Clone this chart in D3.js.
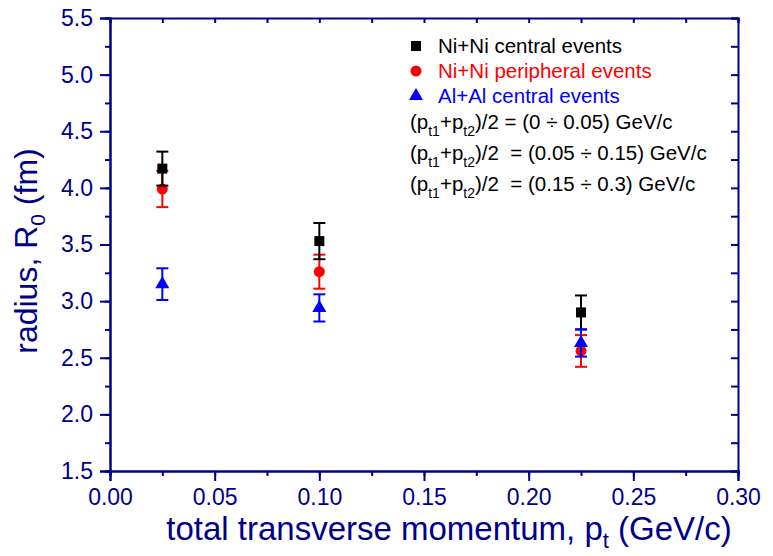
<!DOCTYPE html>
<html>
<head>
<meta charset="utf-8">
<script src="https://cdn.jsdelivr.net/npm/d3@7"></script>
<style>
  body { margin: 0; background: #fff; }
  svg { font-family: "Liberation Sans", Arial, sans-serif; }
</style>
</head>
<body>
<div id="chart"></div>
<script>
// values
let momentum = [0.025, 0.1, 0.225];
let niCentral = [4.17, 3.53, 2.90];
let niCentralErr = [0.15, 0.16, 0.15];
let niPeripheral = [3.99, 3.26, 2.56];
let niPeripheralErr = [0.16, 0.15, 0.14];
let alCentral = [3.15, 2.94, 2.63];
let alCentralErr = [0.14, 0.12, 0.12];
let xTicks = [0.00, 0.05, 0.10, 0.15, 0.20, 0.25, 0.30];
let yTicks = [1.5, 2.0, 2.5, 3.0, 3.5, 4.0, 4.5, 5.0, 5.5];
let legendLabels = ["Ni+Ni central events", "Ni+Ni peripheral events", "Al+Al central events"];
let binLabels = [
  ["(0 \u00f7 0.05) GeV/c", "/2 = "],
  ["(0.05 \u00f7 0.15) GeV/c", "/2  = "],
  ["(0.15 \u00f7 0.3) GeV/c", "/2  = "]
];

let axisColor = "#00008b";
let width = 773, height = 556;
let margin = { top: 18, right: 35, bottom: 85, left: 110 };

let svg = d3.select("#chart").append("svg")
  .attr("width", width)
  .attr("height", height);

let x = d3.scaleLinear().domain([0, 0.30]).range([margin.left, width - margin.right]);
let y = d3.scaleLinear().domain([1.5, 5.5]).range([height - margin.bottom, margin.top]);

let xMinor = d3.range(0, 0.3001, 0.025);
let yMinor = d3.range(1.5, 5.5001, 0.25);

function styleAxis(g) {
  g.selectAll("path").attr("stroke", axisColor).attr("stroke-width", 2);
  g.selectAll("line").attr("stroke", axisColor).attr("stroke-width", 2);
  g.selectAll("text").attr("fill", axisColor).style("font-size", "23px");
}

// minor ticks
svg.append("g").attr("transform", `translate(0,${y(1.5)})`)
  .call(d3.axisBottom(x).tickValues(xMinor).tickSize(5).tickFormat(""))
  .call(styleAxis);
svg.append("g").attr("transform", `translate(${x(0)},0)`)
  .call(d3.axisLeft(y).tickValues(yMinor).tickSize(5).tickFormat(""))
  .call(styleAxis);
svg.append("g").attr("transform", `translate(0,${y(5.5)})`)
  .call(d3.axisBottom(x).tickValues(xMinor).tickSize(5).tickFormat(""))
  .call(styleAxis);
svg.append("g").attr("transform", `translate(${x(0.3)},0)`)
  .call(d3.axisLeft(y).tickValues(yMinor).tickSize(7).tickFormat(""))
  .call(styleAxis);

// major ticks with labels
svg.append("g").attr("transform", `translate(0,${y(1.5)})`)
  .call(d3.axisBottom(x).tickValues(xTicks).tickSize(10).tickPadding(8).tickFormat(d3.format(".2f")))
  .call(styleAxis);
svg.append("g").attr("transform", `translate(${x(0)},0)`)
  .call(d3.axisLeft(y).tickValues(yTicks).tickSize(10).tickPadding(7).tickFormat(d3.format(".1f")))
  .call(styleAxis);

// axis titles
let xTitle = svg.append("text")
  .attr("x", (x(0) + x(0.3)) / 2 + 25)
  .attr("y", 540)
  .attr("text-anchor", "middle")
  .attr("fill", axisColor)
  .style("font-size", "33px");
xTitle.append("tspan").text("total transverse momentum, p");
xTitle.append("tspan").attr("dy", 8).style("font-size", "22px").text("t");
xTitle.append("tspan").attr("dy", -8).text(" (GeV/c)");

let yTitle = svg.append("text")
  .attr("transform", `translate(37,${251}) rotate(-90)`)
  .attr("text-anchor", "middle")
  .attr("fill", axisColor)
  .style("font-size", "32px");
yTitle.append("tspan").text("radius, R");
yTitle.append("tspan").attr("dy", 8).style("font-size", "21px").text("0");
yTitle.append("tspan").attr("dy", -8).text(" (fm)");

// series
let series = [
  { vals: niPeripheral, err: niPeripheralErr, color: "#ff0000", shape: d3.symbolCircle, size: 95 },
  { vals: niCentral, err: niCentralErr, color: "#000000", shape: d3.symbolSquare, size: 100 },
  { vals: alCentral, err: alCentralErr, color: "#0000ff", shape: d3.symbolTriangle, size: 85 }
];

series.forEach(function(s) {
  let g = svg.append("g");
  momentum.forEach(function(m, i) {
    let cx = x(m);
    let top = y(s.vals[i] + s.err[i]);
    let bot = y(s.vals[i] - s.err[i]);
    g.append("line").attr("x1", cx).attr("x2", cx).attr("y1", top).attr("y2", bot)
      .attr("stroke", s.color).attr("stroke-width", 2);
    [top, bot].forEach(function(cy) {
      g.append("line").attr("x1", cx - 6).attr("x2", cx + 6).attr("y1", cy).attr("y2", cy)
        .attr("stroke", s.color).attr("stroke-width", 2);
    });
    g.append("path")
      .attr("d", d3.symbol().type(s.shape).size(s.size))
      .attr("transform", `translate(${cx},${y(s.vals[i])})`)
      .attr("fill", s.color);
  });
});

// legend
let legendOrder = [series[1], series[0], series[2]];
let legend = svg.append("g").style("font-size", "20.5px");
legendLabels.forEach(function(label, i) {
  let ly = 53 + i * 25;
  legend.append("path")
    .attr("d", d3.symbol().type(legendOrder[i].shape).size(legendOrder[i].size))
    .attr("transform", `translate(416,${ly - 7})`)
    .attr("fill", legendOrder[i].color);
  legend.append("text").attr("x", 438).attr("y", ly).attr("fill", legendOrder[i].color).text(label);
});
binLabels.forEach(function(b, i) {
  let t = legend.append("text").attr("x", 410).attr("y", 129 + i * 31)
    .attr("fill", "#000").style("white-space", "pre");
  t.append("tspan").text("(p");
  t.append("tspan").attr("dy", 7).style("font-size", "14px").text("t1");
  t.append("tspan").attr("dy", -7).text("+p");
  t.append("tspan").attr("dy", 7).style("font-size", "14px").text("t2");
  t.append("tspan").attr("dy", -7).text(")" + b[1] + b[0]);
});
</script>
</body>
</html>
